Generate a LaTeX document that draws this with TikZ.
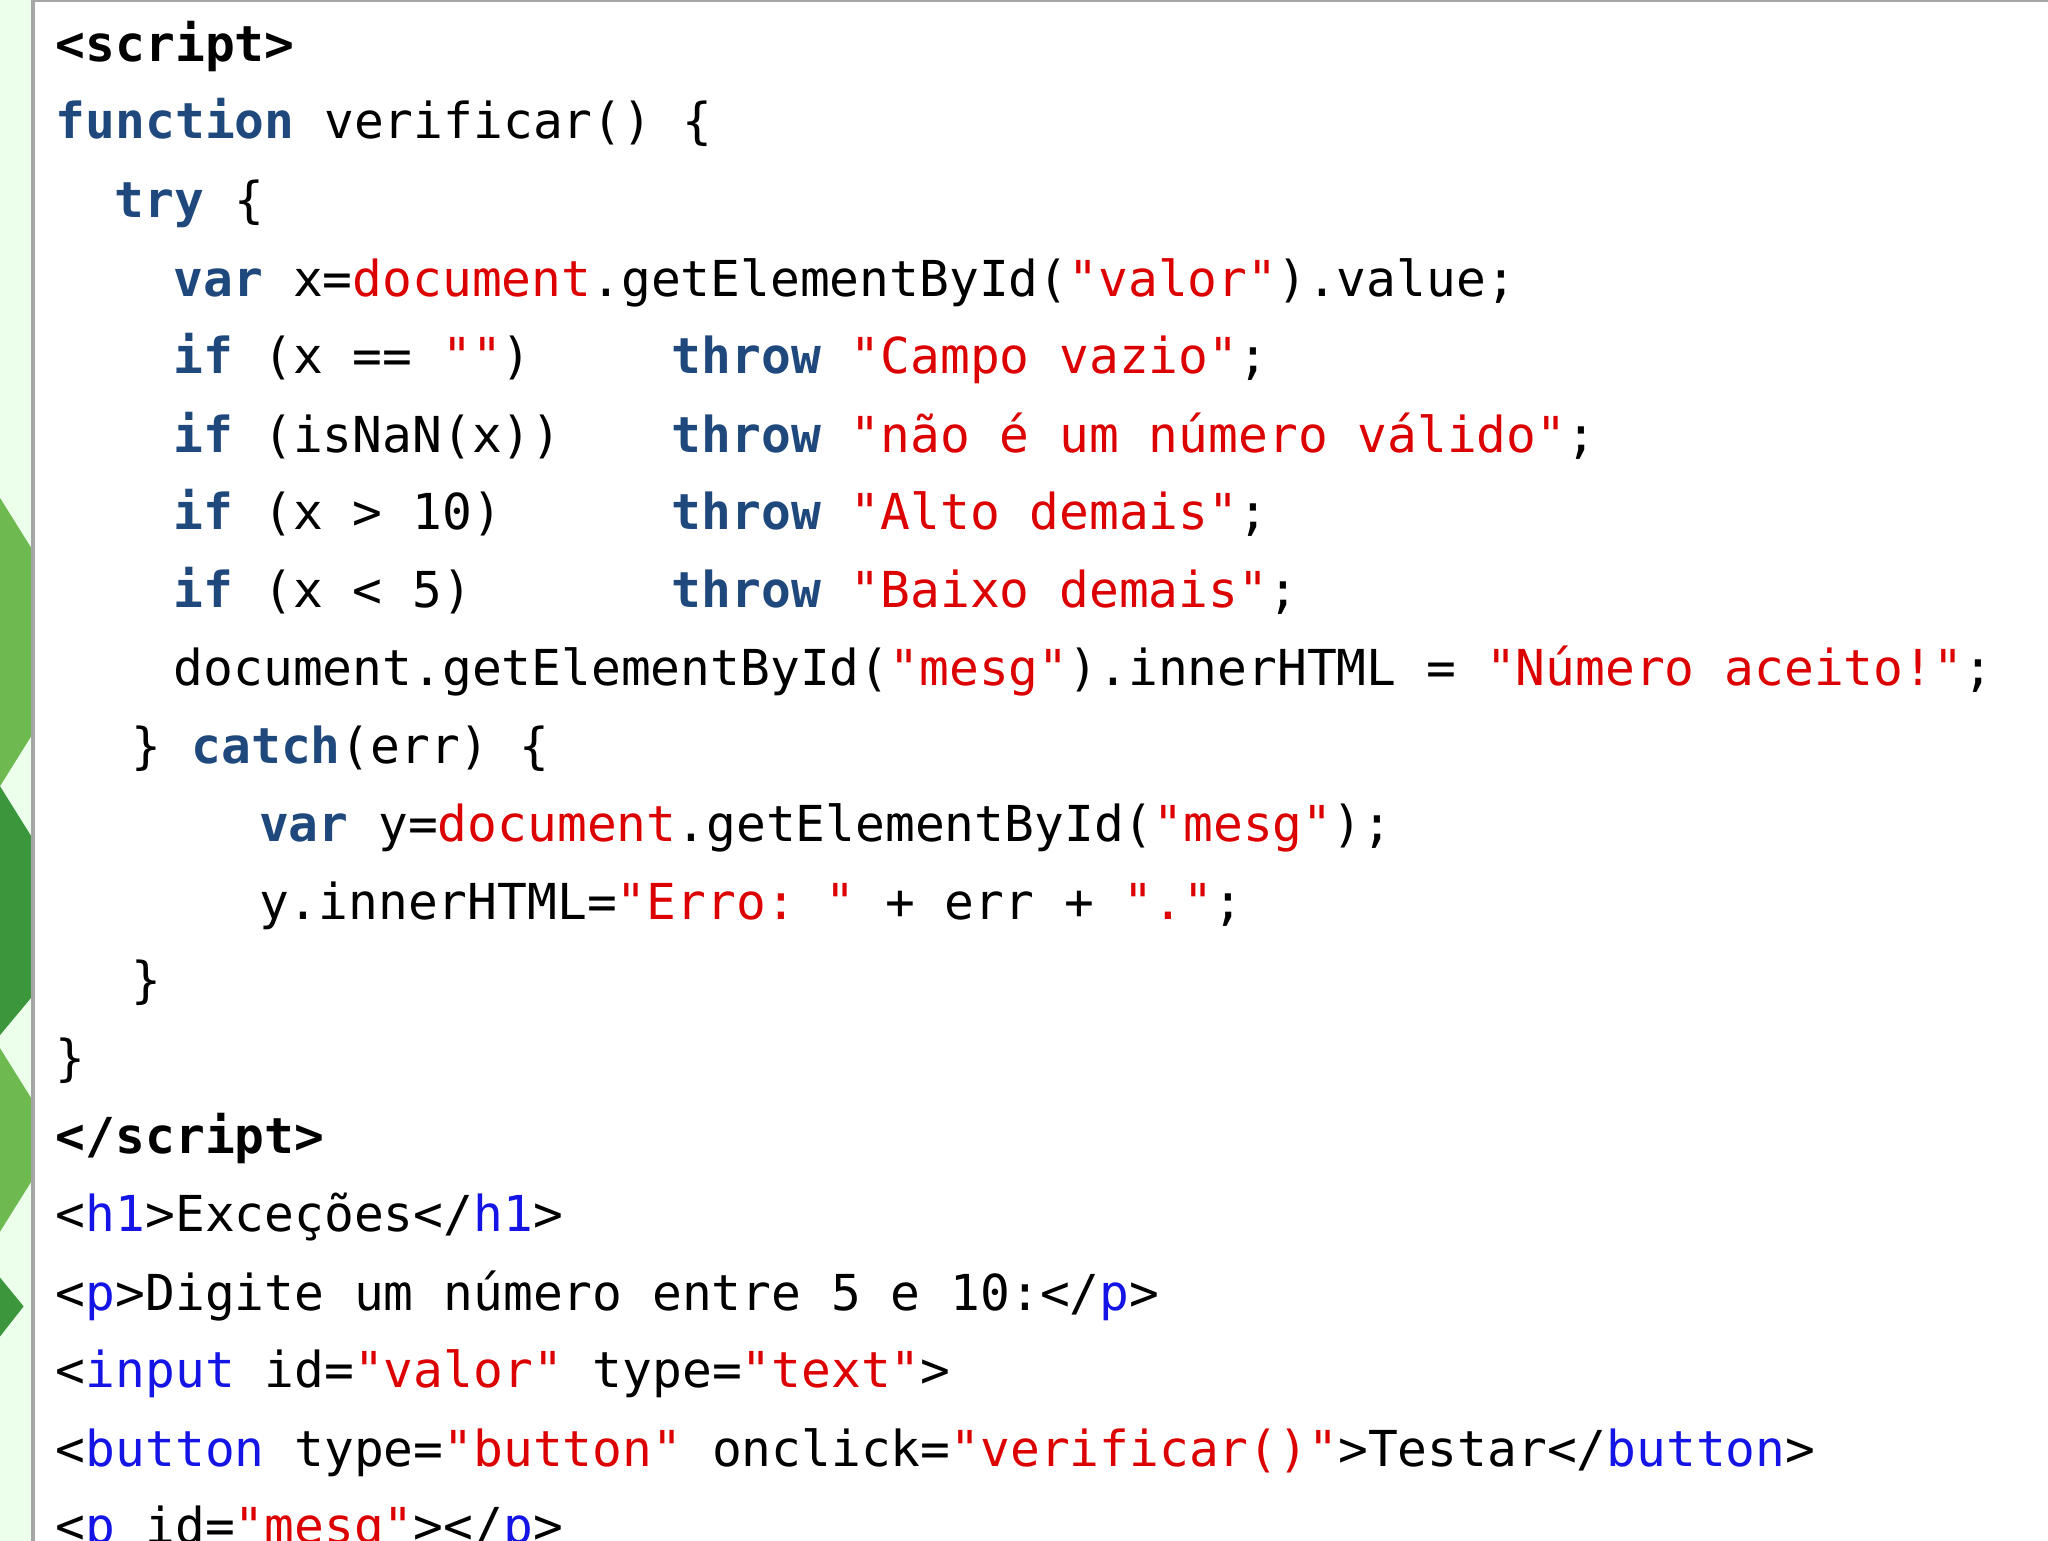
\documentclass[tikz,border=0pt]{standalone}
\usepackage{fontspec}
\setmonofont{DejaVu Sans Mono}
\definecolor{kw}{RGB}{31,73,125}
\definecolor{rs}{RGB}{220,0,0}
\definecolor{tg}{RGB}{20,20,230}
\definecolor{leaf}{RGB}{110,185,80}
\definecolor{leafd}{RGB}{60,150,60}
\newcommand\kwd[1]{\textcolor{kw}{\bfseries #1}}
\newcommand\rsx[1]{\textcolor{rs}{#1}}
\newcommand\tgx[1]{\textcolor{tg}{#1}}
\tikzset{code/.style={anchor=base west,inner sep=0pt,font=\ttfamily\fontsize{10.75}{13}\selectfont}}
\begin{document}
\begin{tikzpicture}[x=0.01cm,y=-0.01cm]
\useasboundingbox (0,0) rectangle (1563,1176);
\fill[white] (0,0) rectangle (1563,1176);
\fill[green!8] (0,0) rectangle (25,1176);
\fill[leaf] (0,380) -- (25,420) -- (25,560) -- (0,600) -- cycle;
\fill[leafd] (0,600) -- (25,640) -- (25,760) -- (0,790) -- cycle;
\fill[leaf] (0,800) -- (25,840) -- (25,900) -- (0,940) -- cycle;
\fill[leafd] (0,975) -- (18,997) -- (0,1020) -- cycle;
\draw[gray!70,line width=0.8pt] (25,0) -- (25,1176);
\draw[gray!70,line width=0.8pt] (25,0.5) -- (1563,0.5);
\begin{scope}
\clip (25,0) rectangle (1563,1176);
\node[code] (l1) at (42,47) {\bfseries <script>};
\node[code] (l2) at (42,106) {\kwd{function} verificar() \{};
\node[code] (l3) at (87,166) {\kwd{try} \{};
\node[code] (l4) at (132,226) {\kwd{var} x=\rsx{document}.getElementById(\rsx{"valor"}).value;};
\node[code] (l5) at (132,285) {\kwd{if} (x == \rsx{""})};
\node[code] (l6) at (132,345) {\kwd{if} (isNaN(x))};
\node[code] (l7) at (132,404) {\kwd{if} (x > 10)};
\node[code] (l8) at (132,464) {\kwd{if} (x < 5)};
\node[code] (t5) at (512,285) {\kwd{throw} \rsx{"Campo vazio"};};
\node[code] (t6) at (512,345) {\kwd{throw} \rsx{"não é um número válido"};};
\node[code] (t7) at (512,404) {\kwd{throw} \rsx{"Alto demais"};};
\node[code] (t8) at (512,464) {\kwd{throw} \rsx{"Baixo demais"};};
\node[code] (l9) at (132,523) {document.getElementById(\rsx{"mesg"}).innerHTML = \rsx{"Número aceito!"};};
\node[code] (l10) at (100,583) {\} \kwd{catch}(err) \{};
\node[code] (l11) at (197,642) {\kwd{var} y=\rsx{document}.getElementById(\rsx{"mesg"});};
\node[code] (l12) at (197,702) {y.innerHTML=\rsx{"Erro:\ "} + err + \rsx{"."};};
\node[code] (l13) at (100,761) {\}};
\node[code] (l14) at (42,821) {\}};
\node[code] (l15) at (42,880) {\bfseries </script>};
\node[code] (l16) at (42,940) {<\tgx{h1}>Exceções</\tgx{h1}>};
\node[code] (l17) at (42,1000) {<\tgx{p}>Digite um número entre 5 e 10:</\tgx{p}>};
\node[code] (l18) at (42,1059) {<\tgx{input} id=\rsx{"valor"} type=\rsx{"text"}>};
\node[code] (l19) at (42,1119) {<\tgx{button} type=\rsx{"button"} onclick=\rsx{"verificar()"}>Testar</\tgx{button}>};
\node[code] (l20) at (42,1178) {<\tgx{p} id=\rsx{"mesg"}></\tgx{p}>};
\end{scope}
\end{tikzpicture}
\end{document}
